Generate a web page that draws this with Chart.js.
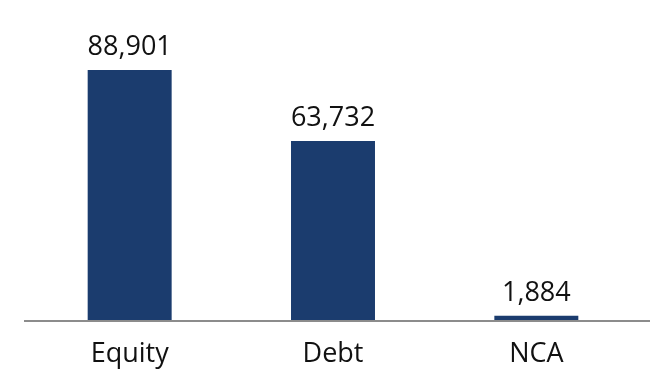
<!DOCTYPE html>
<html>
<head>
<meta charset="utf-8">
<script src="https://cdn.jsdelivr.net/npm/chart.js@4"></script>
<style>
  html, body { margin: 0; padding: 0; background: #fff; }
  #wrap { width: 671px; height: 380px; }
</style>
</head>
<body>
<div id="wrap"><canvas id="bar-chart" width="671" height="380"></canvas></div>
<script>
// Dados do gráfico
const categories = ['Equity', 'Debt', 'NCA'];
const values = [88901, 63732, 1884];
const valueLabels = ['88,901', '63,732', '1,884'];

const barColor = '#1b3c6e';
const textFont = '"Open Sans", "Noto Sans", sans-serif';

// Linha de base cinza e rótulos de valor acima das barras
const barExtras = {
    id: 'barExtras',
    afterDatasetsDraw(chart) {
        const ctx = chart.ctx;
        const area = chart.chartArea;
        const y0 = chart.scales.y.getPixelForValue(0);
        ctx.save();
        ctx.strokeStyle = '#8c8c8c';
        ctx.lineWidth = 2;
        ctx.beginPath();
        ctx.moveTo(area.left - 4, y0);
        ctx.lineTo(area.right + 12, y0);
        ctx.stroke();

        ctx.fillStyle = '#111';
        ctx.font = '27px ' + textFont;
        ctx.textAlign = 'center';
        ctx.textBaseline = 'alphabetic';
        chart.getDatasetMeta(0).data.forEach((bar, i) => {
            ctx.fillText(valueLabels[i], bar.x, bar.y - 15);
        });
        ctx.restore();
    }
};

new Chart(document.getElementById('bar-chart').getContext('2d'), {
    type: 'bar',
    data: {
        labels: categories,
        datasets: [{
            data: values,
            backgroundColor: barColor,
            barPercentage: 0.413,
            categoryPercentage: 1
        }]
    },
    options: {
        responsive: false,
        animation: false,
        layout: { padding: { left: 28, right: 33, top: 0, bottom: 0 } },
        plugins: { legend: { display: false }, tooltip: { enabled: false } },
        scales: {
            x: {
                grid: { display: false },
                border: { display: false },
                ticks: { color: '#111', font: { family: textFont, size: 27 }, padding: 9 },
                afterFit(scale) { scale.height = 59; }
            },
            y: {
                display: false,
                min: 0,
                max: 113700
            }
        }
    },
    plugins: [barExtras]
});
</script>
</body>
</html>
